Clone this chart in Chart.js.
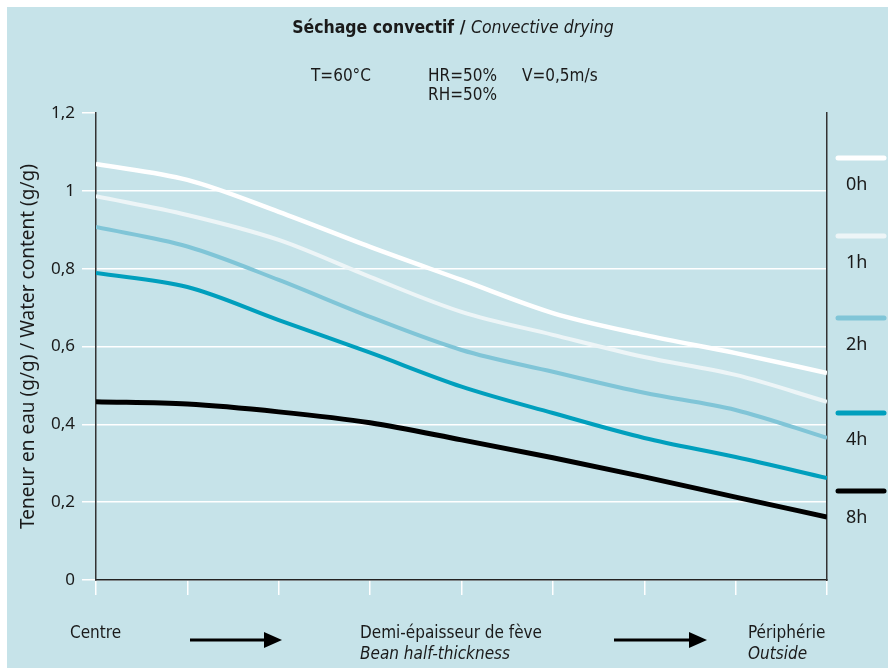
<!DOCTYPE html>
<html lang="fr">
<head>
<meta charset="utf-8">
<title>Séchage convectif</title>
<script src="https://cdn.jsdelivr.net/npm/chart.js@4.4.1/dist/chart.umd.min.js"></script>
<style>
  html, body { margin: 0; padding: 0; background: #fff; }
  #wrap { width: 888px; height: 668px; }
</style>
</head>
<body>
<div id="wrap"><canvas id="chart-drying" width="888" height="668"></canvas></div>
<script>
/*  ===================== DATA ===================== */
// position dans la demi-épaisseur (centre -> périphérie)
const positions = [0, 1, 2, 3, 4, 5, 6, 7, 8];
const seriesNames = ["0h", "1h", "2h", "4h", "8h"];
const water0h = [1.069, 1.028, 0.946, 0.856, 0.771, 0.686, 0.630, 0.583, 0.532];
const water1h = [0.986, 0.938, 0.874, 0.779, 0.689, 0.630, 0.573, 0.527, 0.458];
const water2h = [0.907, 0.857, 0.771, 0.676, 0.591, 0.535, 0.481, 0.437, 0.365];
const water4h = [0.789, 0.753, 0.668, 0.584, 0.497, 0.429, 0.365, 0.316, 0.262];
const water8h = [0.458, 0.452, 0.432, 0.404, 0.360, 0.314, 0.265, 0.213, 0.162];
const yTicks = [0, 0.2, 0.4, 0.6, 0.8, 1, 1.2];
/*  ================================================ */

const BG = "#c6e3e9";
const TEXT = "#1a1a1a";
const NARROW = '"Liberation Sans Narrow", "DejaVu Sans Condensed", "Noto Sans", sans-serif';
const SANS = '"Noto Sans", "Open Sans", sans-serif';

const colors = ["#ffffff", "#edf5f7", "#80c5d7", "#009fbd", "#000000"];
const widths = [4.5, 4, 4, 4, 5];
const allSeries = [water0h, water1h, water2h, water4h, water8h];

const datasets = allSeries.map((vals, i) => ({
  label: seriesNames[i],
  data: positions.map((x, k) => ({ x, y: vals[k] })),
  borderColor: colors[i],
  borderWidth: widths[i],
  pointRadius: 0,
  cubicInterpolationMode: "monotone",
  fill: false,
}));

// fond bleu clair avec liseré blanc en haut/à gauche
const backgroundPlugin = {
  id: "panelBg",
  beforeDraw(chart) {
    const c = chart.ctx;
    c.save();
    c.fillStyle = "#fff";
    c.fillRect(0, 0, chart.width, chart.height);
    c.fillStyle = BG;
    c.fillRect(7, 7, chart.width - 7, chart.height - 7);
    c.restore();
  },
};

function arrow(c, x1, x2, y) {
  c.beginPath();
  c.moveTo(x1, y);
  c.lineTo(x2 - 14, y);
  c.lineWidth = 3;
  c.strokeStyle = "#000";
  c.stroke();
  c.beginPath();
  c.moveTo(x2, y);
  c.lineTo(x2 - 18, y - 8);
  c.lineTo(x2 - 18, y + 8);
  c.closePath();
  c.fillStyle = "#000";
  c.fill();
}

// textes, flèches et légende à droite
const annotationPlugin = {
  id: "annotations",
  afterDraw(chart) {
    const c = chart.ctx;
    c.save();
    c.fillStyle = TEXT;
    c.textBaseline = "middle";

    // titre mixte demi-gras / italique
    const t1 = "Séchage convectif / ";
    const t2 = "Convective drying";
    c.font = "600 17.5px " + NARROW;
    const w1 = c.measureText(t1).width;
    c.font = "italic 17.5px " + NARROW;
    const w2 = c.measureText(t2).width;
    const x0 = 453 - (w1 + w2) / 2;
    c.textAlign = "left";
    c.font = "600 17.5px " + NARROW;
    c.fillText(t1, x0, 28);
    c.font = "italic 17.5px " + NARROW;
    c.fillText(t2, x0 + w1, 28);

    // conditions
    c.font = "17px " + NARROW;
    c.fillText("T=60°C", 311, 77);
    c.fillText("HR=50%", 428, 77);
    c.fillText("RH=50%", 428, 96);
    c.fillText("V=0,5m/s", 522, 77);

    // axe horizontal
    c.fillText("Centre", 70, 634);
    c.fillText("Demi-épaisseur de fève", 360, 634);
    c.fillText("Périphérie", 748, 634);
    c.font = "italic 17px " + NARROW;
    c.fillText("Bean half-thickness", 360, 655);
    c.fillText("Outside", 748, 655);
    arrow(c, 190, 282, 640);
    arrow(c, 614, 707, 640);

    // légende
    const legendY = [158, 236, 318, 413, 491];
    c.font = "18px " + SANS;
    chart.data.datasets.forEach((ds, i) => {
      c.beginPath();
      c.moveTo(838, legendY[i]);
      c.lineTo(884, legendY[i]);
      c.lineWidth = 5;
      c.lineCap = "round";
      c.strokeStyle = ds.borderColor;
      c.stroke();
      c.fillStyle = TEXT;
      c.fillText(ds.label, 846, legendY[i] + 27);
    });
    c.restore();
  },
};

const fmt = (v) => String(Number(v.toFixed(1))).replace(".", ",");

const config = {
  type: "line",
  data: { datasets },
  plugins: [backgroundPlugin, annotationPlugin],
  options: {
    responsive: false,
    animation: false,
    events: [],
    layout: { padding: { top: 113, left: 0, right: 0, bottom: 0 } },
    plugins: { legend: { display: false }, tooltip: { enabled: false } },
    scales: {
      x: {
        type: "linear",
        min: 0,
        max: 8,
        afterFit: (s) => { s.height = 88; },
        ticks: { display: false, stepSize: 1 },
        grid: {
          drawOnChartArea: false,
          tickLength: 15,
          tickColor: "#ffffff",
          lineWidth: 1.5,
        },
        border: { color: "#222", width: 1.5 },
      },
      y: {
        type: "linear",
        min: 0,
        max: 1.2,
        afterFit: (s) => { s.width = 96; },
        afterBuildTicks: (s) => { s.ticks = yTicks.map((v) => ({ value: v })); },
        ticks: {
          callback: (v) => fmt(v),
          color: TEXT,
          font: { family: SANS, size: 17 },
          padding: 7,
        },
        grid: {
          color: (ctx) => (ctx.tick && ctx.tick.value > 1.19 ? "rgba(0,0,0,0)" : "#ffffff"),
          tickColor: "#ffffff",
          tickLength: 14,
          lineWidth: 1.5,
        },
        border: { color: "#333", width: 1.5 },
        title: {
          display: true,
          text: "Teneur en eau (g/g) / Water content (g/g)",
          color: TEXT,
          font: { family: SANS, size: 19 },
          padding: { top: 17, bottom: 0 },
        },
      },
      y2: {
        type: "linear",
        position: "right",
        display: true,
        min: 0,
        max: 1.2,
        afterFit: (s) => { s.width = 61; },
        ticks: { display: false },
        grid: { display: false, drawTicks: false },
        border: { color: "#333", width: 1.5 },
      },
    },
  },
};

new Chart(document.getElementById("chart-drying").getContext("2d"), config);
</script>
</body>
</html>
